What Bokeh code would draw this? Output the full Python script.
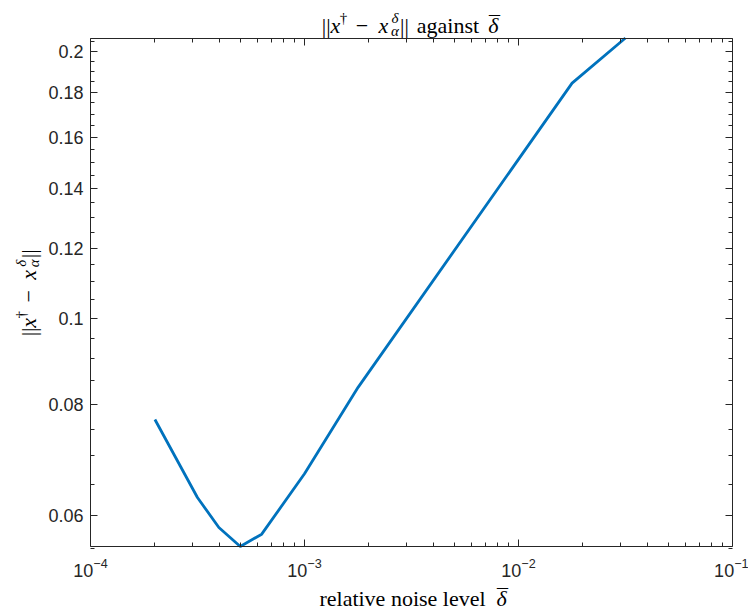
import math
from bokeh.plotting import figure
from bokeh.models import Range1d, FixedTicker, LogAxis, Label, CustomJSTickFormatter
from bokeh.embed import file_html
from bokeh.resources import INLINE

# ---- data ----
delta = [2.0e-4, 3.16e-4, 3.98e-4, 5.01e-4, 6.31e-4, 1.0e-3, 1.78e-3, 1.78e-2, 3.16e-2]
err = [0.0769, 0.0628, 0.0581, 0.0553, 0.0571, 0.0668, 0.0836, 0.1842, 0.2071]

x_lim = (1e-4, 1e-1)
x_major = [1e-4, 1e-3, 1e-2, 1e-1]
x_minor = [k * 10.0 ** d for d in (-4, -3, -2) for k in range(2, 10)]
y_major = [0.06, 0.08, 0.1, 0.12, 0.14, 0.16, 0.18, 0.2]
y_minor = [round(0.055 + 0.005 * i, 3) for i in range(31)]

AX = "#262626"
LINE = "#0072BD"
TICK_FONT = "Liberation Sans"
SERIF = "Liberation Serif"

# canvas and axes-box geometry (pixels)
W, H = 748, 608
BL, BR, BT, BB = 90, 16, 37.5, 62
box_w, box_h = W - BL - BR, H - BT - BB

y_lim = (min(err), max(err))
lx0, lx1 = math.log10(x_lim[0]), math.log10(x_lim[1])
ly0, ly1 = math.log10(y_lim[0]), math.log10(y_lim[1])
kx = (lx1 - lx0) / box_w
ky = (ly1 - ly0) / box_h
xr = Range1d(10 ** (lx0 - BL * kx), 10 ** (lx1 + BR * kx))
yr = Range1d(10 ** (ly0 - BB * ky), 10 ** (ly1 + BT * ky))

p = figure(width=W, height=H, x_axis_type="log", y_axis_type="log",
           x_axis_location=None, y_axis_location=None,
           x_range=xr, y_range=yr, min_border=0,
           output_backend="svg", toolbar_location=None)
p.outline_line_color = None
p.background_fill_color = "white"
p.border_fill_color = "white"
p.xgrid.visible = False
p.ygrid.visible = False

p.line(delta, err, line_width=2.8, line_color=LINE)

yfmt = CustomJSTickFormatter(code="return String(parseFloat(tick.toFixed(4)));")
blank = CustomJSTickFormatter(code="return '';")


def make_axis(ticks, minor, loc, bounds, fmt=None, labels=True):
    ax = LogAxis(ticker=FixedTicker(ticks=ticks, minor_ticks=minor),
                 fixed_location=loc, bounds=bounds)
    if fmt is not None:
        ax.formatter = fmt
    ax.axis_line_color = AX
    ax.axis_line_width = 1
    ax.major_tick_line_color = AX
    ax.minor_tick_line_color = AX
    ax.major_tick_in = 7
    ax.major_tick_out = 0
    ax.minor_tick_in = 4
    ax.minor_tick_out = 0
    ax.major_label_text_color = AX
    ax.major_label_text_font = TICK_FONT
    ax.major_label_text_font_size = "18px"
    if not labels:
        ax.formatter = blank
    return ax


bottom = make_axis(x_major, x_minor, y_lim[0], x_lim)
bottom.major_label_standoff = 11
left = make_axis(y_major, y_minor, x_lim[0], y_lim, fmt=yfmt)
left.major_label_standoff = 7
top = make_axis(x_major, x_minor, y_lim[1], x_lim, labels=False)
right = make_axis(y_major, y_minor, x_lim[1], y_lim, labels=False)
p.add_layout(bottom, "below")
p.add_layout(left, "left")
p.add_layout(top, "above")
p.add_layout(right, "right")

# ---- composite math texts (real text pieces, each centred on its own offset) ----
B, S = 22, 15
# (text, size, style, offset along the line, raise)
NORM = [("||", B, "normal", -39.7, 0),
        ("x", B, "italic", -30.5, 0),
        ("\u2020", S, "normal", -22.4, 8),
        ("\u2212", B, "normal", -4.0, 0),
        ("x", B, "italic", 17.5, 0),
        ("\u03b4", S, "italic", 29.0, 8),
        ("\u03b1", S, "italic", 29.0, -5),
        ("||", B, "normal", 38.5, 0)]


def bar_delta(off):
    return [("\u03b4", B, "italic", off, 0), ("\u00af", B, "normal", off + 1, 2)]


def put(pieces, cx, cy, angle=0.0):
    ca, sa = math.cos(angle), math.sin(angle)
    for t, sz, st, d, r in pieces:
        p.add_layout(Label(x=cx + d * ca - r * sa, y=cy + d * sa + r * ca,
                           x_units="screen", y_units="screen", text=t,
                           text_font=SERIF, text_font_size=f"{sz}px", text_font_style=st,
                           text_color="black", text_align="center",
                           text_baseline="alphabetic", angle=angle))


cx = BL + box_w / 2
title = [(t, sz, st, d - 45.6, r) for t, sz, st, d, r in NORM]
title += [("against", B, "normal", 36.5, 0)] + bar_delta(81.9)
put(title, cx, H - 25)
put(NORM, 28, BB + box_h / 2, angle=math.pi / 2)
put([("relative noise level", B, "normal", -9, 0)] + bar_delta(90), cx, 10)

open("out.html", "w").write(file_html(p, INLINE))
